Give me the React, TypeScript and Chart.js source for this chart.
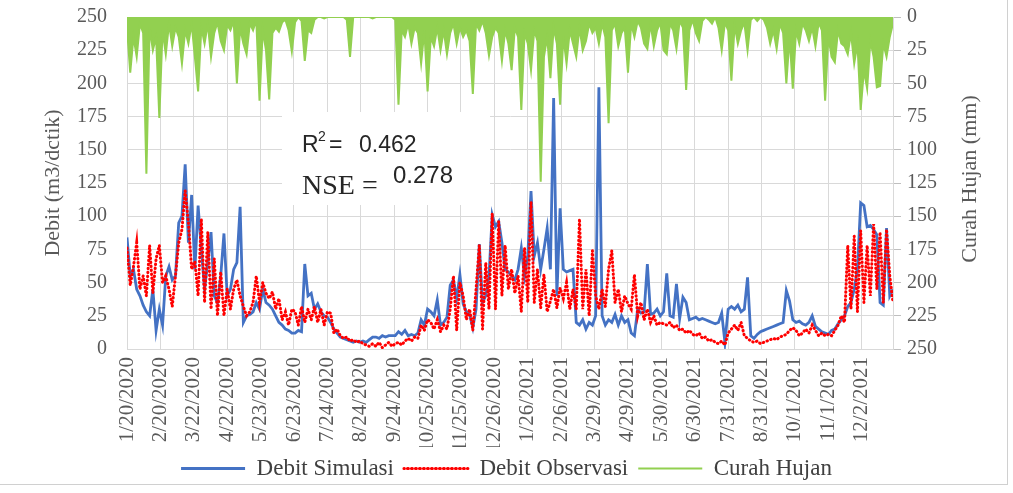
import React, { useEffect, useRef } from "react";
import { Chart, registerables } from "chart.js";

Chart.register(...registerables);

// x axis: days since 1/20/2020, one value every DAY_STEP days
const DAY_STEP = 3;
const X_MAX_DAY = 711;
const TICK_DAYS = [0, 31, 62, 93, 124, 155, 186, 217, 248, 279, 310, 341, 372, 403, 434, 465, 496, 527, 558, 589, 620, 651, 682];
const TICK_LABELS = [
  "1/20/2020", "2/20/2020", "3/22/2020", "4/22/2020", "5/23/2020", "6/23/2020", "7/24/2020",
  "8/24/2020", "9/24/2020", "10/25/2020", "11/25/2020", "12/26/2020", "1/26/2021", "2/26/2021",
  "3/29/2021", "4/29/2021", "5/30/2021", "6/30/2021", "7/31/2021", "8/31/2021", "10/1/2021",
  "11/1/2021", "12/2/2021",
];
const LEFT_TICKS = [0, 25, 50, 75, 100, 125, 150, 175, 200, 225, 250];

const DEBIT_SIMULASI = [
  84, 55, 60, 45, 40, 33, 28, 25, 45, 14, 30,
  18, 55, 62, 52, 55, 95, 100, 139, 80, 116,
  60, 108, 75, 45, 65, 88, 40, 35, 55, 87, 40,
  45, 60, 65, 107, 20, 25, 26, 28, 35, 30,
  45, 35, 33, 30, 25, 20, 18, 15, 14, 12,
  12, 14, 13, 64, 40, 42, 30, 34, 28, 25, 24,
  20, 15, 12, 9, 8, 7, 6, 5, 6, 5,
  6, 5, 7, 9, 9, 8, 10, 9, 10, 10,
  10, 13, 11, 14, 10, 11, 10, 12, 22, 18, 30,
  28, 25, 37, 18, 20, 24, 48, 52, 38, 56,
  34, 28, 26, 16, 30, 79, 35, 40, 55, 101,
  92, 96, 80, 60, 58, 55, 52, 60, 76, 55, 70,
  119, 70, 80, 60, 75, 91, 60, 189, 40, 106,
  60, 58, 59, 60, 20, 18, 22, 15, 20, 18, 25,
  197, 25, 18, 22, 20, 26, 18, 25, 20, 22,
  12, 10, 30, 27, 28, 64, 26, 27, 30, 25,
  28, 57, 25, 24, 49, 23, 39, 35, 22, 23,
  24, 22, 23, 22, 21, 20, 19, 20, 27, 5, 30,
  32, 30, 33, 28, 30, 54, 10, 8, 11, 13,
  14, 15, 16, 17, 18, 19, 20, 44, 36, 22,
  20, 21, 19, 18, 20, 25, 17, 15, 13, 12, 11,
  14, 15, 19, 22, 25, 32, 35, 45, 60, 110,
  108, 92, 93, 90, 86, 35, 33, 91, 40, 45,
];

const DEBIT_OBSERVASI = [
  76, 48, 62, 80, 45, 55, 40, 78, 42, 68, 78,
  50, 55, 45, 32, 55, 80, 90, 119, 95, 60,
  66, 40, 98, 35, 88, 30, 68, 25, 58, 25, 45,
  30, 45, 52, 40, 32, 25, 28, 35, 55, 35,
  50, 42, 38, 43, 30, 38, 22, 28, 18, 30,
  28, 18, 32, 20, 30, 22, 32, 20, 30, 18, 28,
  27, 12, 15, 10, 8, 9, 6, 7, 5, 6,
  4, 3, 2, 4, 2, 5, 1, 3, 5, 2,
  4, 5, 3, 6, 8, 6, 9, 8, 18, 14, 22,
  20, 15, 22, 13, 18, 15, 30, 55, 14, 50,
  40, 22, 30, 14, 45, 78, 15, 65, 30, 102,
  30, 96, 40, 78, 45, 60, 42, 55, 28, 76, 35,
  111, 35, 60, 31, 56, 28, 36, 45, 31, 46,
  38, 50, 30, 45, 30, 98, 30, 60, 25, 74, 40,
  30, 45, 32, 60, 74, 35, 45, 28, 40, 34,
  30, 56, 25, 35, 22, 30, 20, 25, 18, 20,
  19, 18, 20, 16, 18, 14, 15, 12, 14, 11,
  10, 12, 8, 9, 6, 7, 5, 4, 6, 3, 12,
  15, 18, 14, 20, 10, 8, 6, 5, 6, 4,
  5, 6, 7, 8, 7, 9, 10, 11, 14, 16,
  14, 10, 12, 15, 12, 18, 14, 10, 12, 10, 11,
  10, 14, 18, 25, 20, 78, 30, 85, 28, 89,
  35, 78, 40, 94, 45, 88, 35, 90, 55, 35,
];

const CURAH_HUJAN = [
  8, 42, 15, 30, 5, 12, 118, 8, 25, 15, 76,
  10, 28, 5, 22, 8, 15, 35, 10, 20, 5,
  30, 56, 8, 20, 5, 30, 12, 4, 18, 25, 6,
  10, 3, 50, 8, 20, 28, 5, 10, 2, 63,
  10, 25, 62, 12, 8, 11, 4, 2, 10, 26,
  4, 0, 3, 33, 10, 12, 2, 0, 0, 1, 0,
  0, 0, 0, 0, 0, 2, 30, 0, 0, 0,
  0, 0, 0, 1, 0, 0, 0, 0, 0, 0,
  2, 66, 10, 15, 5, 20, 8, 12, 35, 10, 56,
  15, 22, 8, 25, 10, 28, 12, 5, 20, 8,
  15, 10, 18, 58, 5, 10, 3, 12, 29, 15,
  8, 12, 33, 10, 20, 40, 8, 15, 70, 12, 20,
  40, 10, 18, 124, 30, 15, 46, 8, 20, 66,
  15, 35, 10, 20, 30, 8, 25, 18, 5, 12, 8,
  20, 5, 15, 80, 10, 5, 22, 12, 8, 42,
  5, 15, 3, 8, 20, 24, 5, 22, 10, 4,
  25, 28, 5, 10, 24, 3, 8, 55, 10, 2,
  12, 18, 3, 0, 2, 5, 0, 8, 25, 4, 10,
  48, 6, 20, 10, 4, 25, 2, 0, 3, 0,
  2, 8, 20, 10, 24, 5, 12, 50, 15, 54,
  10, 20, 5, 10, 18, 8, 22, 4, 10, 63, 15,
  30, 34, 10, 20, 22, 28, 12, 35, 20, 70,
  40, 54, 18, 30, 53, 52, 20, 30, 15, 5,
];

const R2_TEXT = "0.462";
const NSE_TEXT = "0.278";
const LEFT_TITLE = "Debit (m3/dctik)";
const RIGHT_TITLE = "Curah Hujan (mm)";

const SERIF = '"Liberation Serif", "Times New Roman", serif';
const SANS = '"Liberation Sans", Arial, sans-serif';
const AXIS_TEXT = "#595959";
const GRID = "#D9D9D9";

const toPoints = (arr: number[]) => arr.map((v, i) => ({ x: i * DAY_STEP, y: v }));

const overlayPlugin = {
  id: "overlay",
  beforeDatasetsDraw(chart: any) {
    const ctx = chart.ctx;
    const ca = chart.chartArea;
    ctx.save();
    // statistics box
    ctx.fillStyle = "#ffffff";
    ctx.fillRect(ca.left + 155, ca.top + 95, 208, 93);
    ctx.fillStyle = "#262626";
    ctx.textBaseline = "alphabetic";
    ctx.textAlign = "left";
    const bx = ca.left + 175;
    ctx.font = `23px ${SANS}`;
    ctx.fillText("R", bx, ca.top + 135);
    ctx.font = `14px ${SANS}`;
    ctx.fillText("2", bx + 16, ca.top + 124);
    ctx.font = `23px ${SANS}`;
    ctx.fillText("=", bx + 27, ca.top + 135);
    ctx.fillText(R2_TEXT, bx + 57, ca.top + 135);
    ctx.font = `28px ${SERIF}`;
    ctx.fillText("NSE =", bx, ca.top + 177);
    ctx.font = `24px ${SANS}`;
    ctx.fillText(NSE_TEXT, bx + 91, ca.top + 166);
    ctx.restore();
  },
  afterDraw(chart: any) {
    const ctx = chart.ctx;
    const ca = chart.chartArea;
    ctx.save();
    ctx.translate(ca.right + 77, (ca.top + ca.bottom) / 2 - 4);
    ctx.rotate(-Math.PI / 2);
    ctx.font = `22px ${SERIF}`;
    ctx.fillStyle = AXIS_TEXT;
    ctx.textAlign = "center";
    ctx.textBaseline = "middle";
    ctx.fillText(RIGHT_TITLE, 0, 0);
    ctx.restore();
  },
};

export default function App() {
  const canvasRef = useRef<HTMLCanvasElement | null>(null);

  useEffect(() => {
    if (!canvasRef.current) return;
    const chart = new Chart(canvasRef.current, {
      type: "line",
      data: {
        datasets: [
          {
            label: "Debit Simulasi",
            data: toPoints(DEBIT_SIMULASI),
            yAxisID: "y",
            borderColor: "#4472C4",
            backgroundColor: "#4472C4",
            borderWidth: 2.8,
            pointRadius: 0,
            order: 1,
          },
          {
            label: "Debit Observasi",
            data: toPoints(DEBIT_OBSERVASI),
            yAxisID: "y",
            borderColor: "#FF0000",
            backgroundColor: "#FF0000",
            borderWidth: 3,
            borderDash: [0.5, 3.5],
            borderCapStyle: "round",
            pointRadius: 0,
            order: 0,
          },
          {
            label: "Curah Hujan",
            data: toPoints(CURAH_HUJAN),
            yAxisID: "y1",
            borderColor: "#92D050",
            backgroundColor: "#92D050",
            borderWidth: 2,
            fill: "origin",
            pointRadius: 0,
            order: 2,
          },
        ] as any,
      },
      options: {
        animation: false,
        responsive: false,
        devicePixelRatio: 1,
        layout: { padding: { top: 17, bottom: 3, left: 0, right: 0 } },
        plugins: {
          tooltip: { enabled: false },
          legend: {
            position: "bottom",
            labels: {
              font: { family: SERIF, size: 23 },
              color: "#404040",
              boxWidth: 64,
              boxHeight: 0,
              padding: 10,
              sort: (a: any, b: any) => a.datasetIndex - b.datasetIndex,
            },
          },
        },
        scales: {
          x: {
            type: "linear",
            min: 0,
            max: X_MAX_DAY,
            afterBuildTicks: (scale: any) => {
              scale.ticks = TICK_DAYS.map((v) => ({ value: v }));
            },
            afterFit: (scale: any) => {
              scale.height = 98;
            },
            ticks: {
              autoSkip: false,
              minRotation: 90,
              maxRotation: 90,
              padding: 8,
              font: { family: SERIF, size: 21 },
              color: AXIS_TEXT,
              callback: (value: any) => {
                const k = TICK_DAYS.indexOf(Number(value));
                return k >= 0 ? TICK_LABELS[k] : "";
              },
            },
            grid: { color: GRID, lineWidth: 1, drawTicks: false },
            border: { display: true, color: GRID },
          },
          y: {
            type: "linear",
            position: "left",
            min: 0,
            max: 250,
            afterBuildTicks: (scale: any) => {
              scale.ticks = LEFT_TICKS.map((v) => ({ value: v }));
            },
            afterFit: (scale: any) => {
              scale.width = 127;
            },
            ticks: {
              padding: 4,
              font: { family: SERIF, size: 20, lineHeight: 1 },
              color: AXIS_TEXT,
            },
            title: {
              display: true,
              text: LEFT_TITLE,
              font: { family: SERIF, size: 22 },
              color: AXIS_TEXT,
              padding: { top: 40, bottom: 0 },
            },
            grid: { color: GRID, lineWidth: 1, drawTicks: true, tickLength: 16, tickColor: "rgba(0,0,0,0)" },
            border: { display: true, color: GRID },
          },
          y1: {
            type: "linear",
            position: "right",
            reverse: true,
            min: 0,
            max: 250,
            afterBuildTicks: (scale: any) => {
              scale.ticks = LEFT_TICKS.map((v) => ({ value: v }));
            },
            afterFit: (scale: any) => {
              scale.width = 120;
            },
            ticks: {
              padding: 6,
              font: { family: SERIF, size: 20, lineHeight: 1 },
              color: AXIS_TEXT,
            },
            grid: { drawOnChartArea: false, color: "#BFBFBF", tickLength: 8, drawTicks: true },
            border: { display: true, color: GRID },
          },
        },
      } as any,
      plugins: [overlayPlugin],
    });
    return () => chart.destroy();
  }, []);

  return (
    <div style={{ position: "fixed", left: 0, top: 0, width: 1013, height: 493, background: "#ffffff" }}>
      <canvas ref={canvasRef} width={1013} height={493} style={{ display: "block" }} />
      <div
        style={{
          position: "absolute",
          left: 0,
          top: 0,
          width: 1007,
          height: 484,
          borderRight: "1px solid #D0D0D0",
          borderBottom: "1px solid #D0D0D0",
          pointerEvents: "none",
        }}
      />
    </div>
  );
}
